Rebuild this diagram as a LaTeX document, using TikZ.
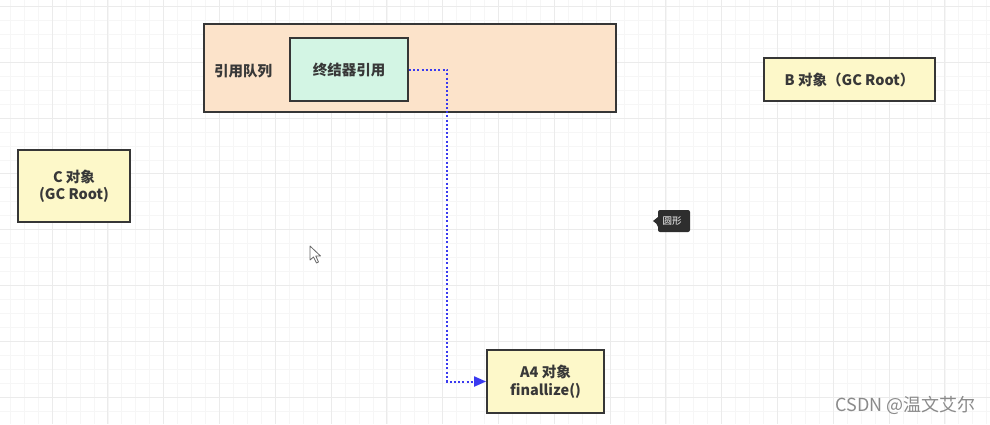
\documentclass[tikz,border=0pt]{standalone}
\usepackage{fontspec}
\setmainfont{Noto Sans CJK SC}
\usetikzlibrary{arrows.meta}
\definecolor{gridminor}{HTML}{F6F6F6}
\definecolor{gridmajor}{HTML}{EBEBEB}
\definecolor{boxline}{HTML}{363636}
\definecolor{peach}{HTML}{FCE3CA}
\definecolor{mint}{HTML}{D3F5E4}
\definecolor{paleyellow}{HTML}{FDF8C9}
\definecolor{linkblue}{HTML}{3A3AF0}
\definecolor{tipdark}{HTML}{2E2E2E}
\definecolor{wmgray}{HTML}{8A8A8A}
\tikzset{
  boxtext/.style={font=\fontsize{14.5}{17.5}\selectfont\bfseries, text=black!78},
  objbox/.style={draw=boxline, line width=1.8pt, fill=paleyellow, align=center,
    boxtext, inner sep=0pt},
  link/.style={draw=linkblue, line width=2pt, dash pattern=on 2pt off 2.2pt,
    -{Triangle[length=12pt,width=10pt,fill=linkblue]}},
}
\begin{document}
\begin{tikzpicture}[x=1pt,y=-1pt]
\useasboundingbox (0,0) rectangle (990,424);
\fill[white] (0,0) rectangle (990,424);
% grid
\foreach \i in {0,...,71} {
  \draw[gridminor, line width=0.7pt] ({10.2+13.95*\i},0) -- ({10.2+13.95*\i},424);
}
\foreach \j in {0,...,30} {
  \draw[gridminor, line width=0.7pt] (0,{6.2+13.97*\j}) -- (990,{6.2+13.97*\j});
}
\foreach \i in {0,...,17} {
  \draw[gridmajor, line width=0.9pt] ({52-55.8+55.8*\i},0) -- ({52-55.8+55.8*\i},424);
}
\foreach \j in {0,...,7} {
  \draw[gridmajor, line width=0.9pt] (0,{6.2+55.9*\j}) -- (990,{6.2+55.9*\j});
}
% queue container
\node[draw=boxline, line width=1.8pt, fill=peach, minimum width=412pt, minimum height=88pt, inner sep=0pt] (queue) at (410,68) {};
\node[boxtext] (qlabel) at (243,71) {引用队列};
\node[draw=boxline, line width=1.8pt, fill=mint, minimum width=118pt, minimum height=63pt, inner sep=0pt,
  boxtext] (fin) at (349,69.5) {终结器引用};
% objects
\node[objbox, minimum width=171pt, minimum height=43pt] (b) at (849.5,79.5) {B 对象（GC Root）};
\node[objbox, minimum width=112pt, minimum height=72pt] (c) at (74,186) {C 对象\\(GC Root)};
\node[objbox, minimum width=117pt, minimum height=63pt] (a4) at (545.5,381.5) {A4 对象\\finallize()};
% connector
\coordinate (bend) at (447,69.5);
\draw[link] (fin.east) -- (bend) |- (a4.west);
% tooltip
\fill[tipdark, rounded corners=2pt] (658,210) -- (690,210) -- (690,232) -- (658,232) -- (658,225) [sharp corners] -- (653,221) -- (658,217) [rounded corners=2pt] -- cycle;
\node[text=white, font=\fontsize{9.5}{10}\selectfont, inner sep=0pt] (tip) at (672,221) {圆形};
% cursor
\filldraw[fill=white, draw=black!60, line width=0.8pt, line join=round]
  (310,246) -- (310,260) -- (313.5,257) -- (316.5,263) -- (318.5,262) -- (315.8,256) -- (320.5,256) -- cycle;
% watermark
\node[text=wmgray, font=\fontsize{18}{20}\selectfont, anchor=east, inner sep=0pt] (wm) at (976,405) {CSDN @温文艾尔};
\end{tikzpicture}
\end{document}
